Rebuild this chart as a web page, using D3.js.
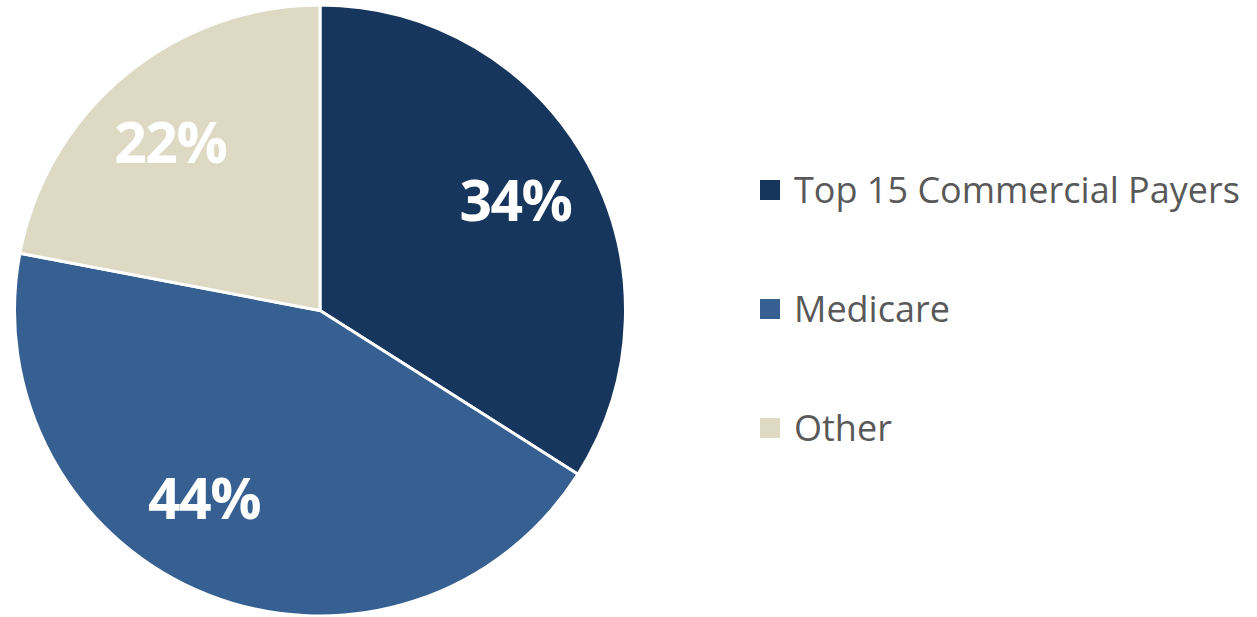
<!DOCTYPE html>
<html><head><meta charset="utf-8">
<script src="https://cdn.jsdelivr.net/npm/d3@7"></script>
<style>html,body{margin:0;padding:0;background:#fff;}</style>
</head><body>
<svg id="chart" width="1257" height="617"></svg>
<script>
const categories = ["Top 15 Commercial Payers", "Medicare", "Other"];
const values = [34, 44, 22];
const labels = ["34%", "44%", "22%"];
const colors = ["#17365D", "#366092", "#DDD9C3"];

const svg = d3.select("#chart");
const cx = 320, cy = 310.5, r = 305.5;
const g = svg.append("g").attr("transform", `translate(${cx},${cy})`);

const data = categories.map((c, i) => ({cat: c, value: values[i], label: labels[i], color: colors[i]}));
const pie = d3.pie().sort(null).value(d => d.value);
const arcs = pie(data);
const arc = d3.arc().innerRadius(0).outerRadius(r);

g.selectAll("path").data(arcs).join("path")
  .attr("d", arc)
  .attr("fill", d => d.data.color)
  .attr("stroke", "#fff")
  .attr("stroke-width", 3)
  .attr("stroke-linejoin", "round");

const labelR = 223;
const angleShift = [0, 0.17, -0.045];
g.selectAll("text.lbl").data(arcs).join("text")
  .attr("class", "lbl")
  .attr("x", (d, i) => labelR * Math.sin((d.startAngle + d.endAngle) / 2 + angleShift[i]))
  .attr("y", (d, i) => -labelR * Math.cos((d.startAngle + d.endAngle) / 2 + angleShift[i]) + 18)
  .attr("text-anchor", "middle")
  .attr("font-family", "'Open Sans', sans-serif")
  .attr("font-weight", "bold")
  .attr("font-size", 57)
  .attr("letter-spacing", -1.5)
  .attr("fill", "#fff")
  .text(d => d.data.label);

const legend = svg.append("g");
const legendY = d3.scalePoint().domain(categories).range([180, 418]);
const rows = legend.selectAll("g").data(data).join("g")
  .attr("transform", d => `translate(760,${legendY(d.cat)})`);
rows.append("rect").attr("width", 20).attr("height", 20).attr("fill", d => d.color);
rows.append("text")
  .attr("x", 34).attr("y", 23)
  .attr("font-family", "'Open Sans', sans-serif")
  .attr("font-size", 36)
  .attr("fill", "#595959")
  .text(d => d.cat);
</script>
</body></html>
